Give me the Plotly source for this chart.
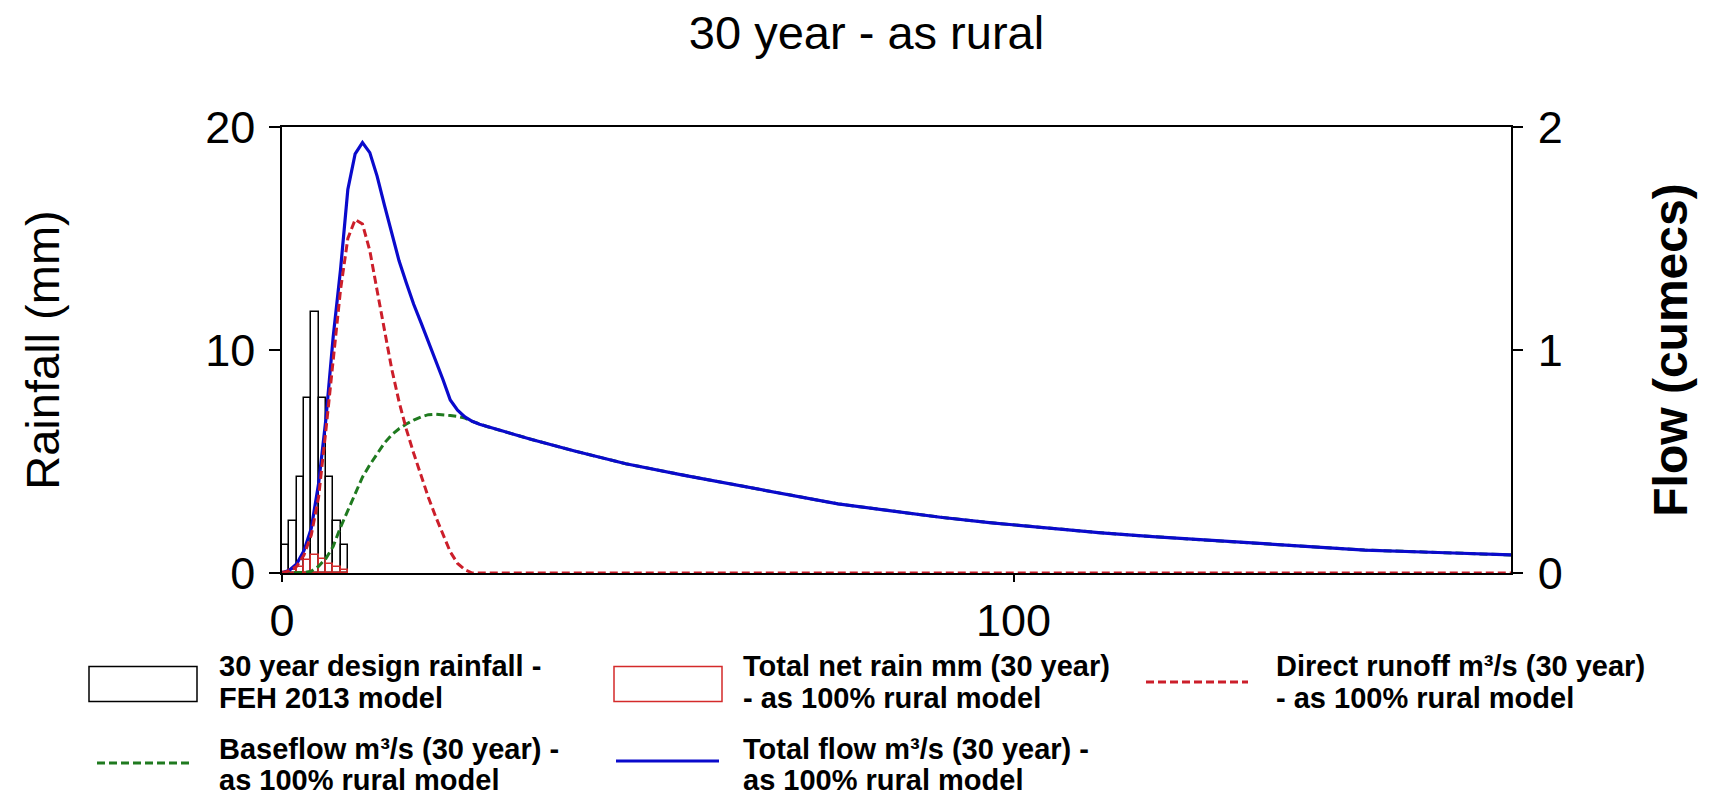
import plotly.graph_objects as go

# ---------------- data ----------------
rain_start_hr = [0, 1, 2, 3, 4, 5, 6, 7, 8]
rain_mm = [1.25, 2.35, 4.3, 7.85, 11.7, 7.85, 4.3, 2.35, 1.25]
net_rain_mm = [0.06, 0.14, 0.28, 0.58, 0.80, 0.61, 0.40, 0.27, 0.13]

total_time = [0, 1, 2, 3, 4, 5, 6, 7, 8, 9, 10, 11, 12, 13, 14, 15, 16, 17, 18, 19,
              20, 21, 22, 23, 24, 25, 26, 27, 28, 30, 34, 40, 47, 55, 62, 70, 76, 83,
              90, 97, 105, 112, 119, 126, 134, 141, 148, 158, 168]
total_flow = [0, 0.012, 0.04, 0.10, 0.20, 0.40, 0.69, 1.06, 1.36, 1.72, 1.88, 1.93, 1.885,
              1.78, 1.65, 1.52, 1.40, 1.30, 1.205, 1.123, 1.04, 0.955, 0.868, 0.776,
              0.73, 0.70, 0.68, 0.667, 0.657, 0.638, 0.60, 0.547, 0.49, 0.438, 0.395,
              0.345, 0.31, 0.28, 0.25, 0.225, 0.20, 0.18, 0.163, 0.148, 0.133, 0.118,
              0.103, 0.092, 0.081]

runoff_time = [0, 1, 2, 3, 4, 5, 6, 7, 8, 9, 10, 11, 12, 13, 14, 15, 16, 17, 18, 19,
               20, 21, 22, 23, 24, 25, 26, 168]
direct_runoff = [0, 0.01, 0.03, 0.08, 0.17, 0.34, 0.64, 0.97, 1.27, 1.50, 1.585, 1.565,
                 1.446, 1.267, 1.083, 0.915, 0.768, 0.644, 0.537, 0.437, 0.34, 0.253,
                 0.17, 0.095, 0.043, 0.015, 0, 0]

base_time = [0, 2, 3, 4, 5, 6, 7, 8, 9, 10, 11, 12, 13, 14, 15, 16, 17, 18, 19, 20, 21,
             22, 23, 24, 25, 26, 27, 28, 30, 34, 40, 47, 55, 62, 70, 76, 83, 90, 97,
             105, 112, 119, 126, 134, 141, 148, 158, 168]
baseflow = [0, 0, 0.002, 0.008, 0.03, 0.065, 0.12, 0.205, 0.28, 0.36, 0.43, 0.485,
            0.535, 0.583, 0.62, 0.647, 0.668, 0.686, 0.70, 0.71, 0.712, 0.71, 0.706,
            0.702, 0.695, 0.68, 0.667, 0.657, 0.638, 0.60, 0.547, 0.49, 0.438, 0.395,
            0.345, 0.31, 0.28, 0.25, 0.225, 0.20, 0.18, 0.163, 0.148, 0.133, 0.118,
            0.103, 0.092, 0.081]

x_ticks = [0, 100]
rain_ticks = [0, 10, 20]
flow_ticks = [0, 1, 2]

# ---------------- styling ----------------
W, H = 1733, 798
L, R, T, B = 282, 1511, 127, 573
FONT = "Liberation Sans, Arial, sans-serif"
BLUE = "#0A0ACC"
RED = "#CC1E2A"
GREEN = "#1F7A1F"
NETRED = "#D42A2A"

fig = go.Figure()

fig.add_trace(go.Bar(
    x=rain_start_hr, y=rain_mm, width=1, offset=0, name="30 year design rainfall - FEH 2013 model",
    marker=dict(color="white", line=dict(color="black", width=1.5)), yaxis="y"))
fig.add_trace(go.Bar(
    x=rain_start_hr, y=net_rain_mm, width=1, offset=0,
    name="Total net rain mm (30 year) - as 100% rural model",
    marker=dict(color="rgba(255,255,255,0)", line=dict(color=NETRED, width=1.5)), yaxis="y"))

fig.add_trace(go.Scatter(
    x=base_time, y=baseflow, mode="lines", yaxis="y2", cliponaxis=False,
    name="Baseflow m³/s (30 year) - as 100% rural model",
    line=dict(color=GREEN, width=3, dash="8px,4px")))
fig.add_trace(go.Scatter(
    x=total_time, y=total_flow, mode="lines", yaxis="y2", cliponaxis=False,
    name="Total flow m³/s (30 year) - as 100% rural model",
    line=dict(color=BLUE, width=3.2)))
fig.add_trace(go.Scatter(
    x=runoff_time, y=direct_runoff, mode="lines", yaxis="y2", cliponaxis=False,
    name="Direct runoff m³/s (30 year) - as 100% rural model",
    line=dict(color=RED, width=3, dash="8px,4px")))


def px(x):
    return (x - L) / (R - L)


def py(y):
    return (B - y) / (B - T)


# ---------------- custom legend ----------------
legend_items = [
    ("box", "black", None, 89, 197, 684, 217, ["30 year design rainfall -", "FEH 2013 model"], 0),
    ("box", NETRED, None, 614, 722, 684, 741, ["Total net rain mm (30 year)", "- as 100% rural model"], 0),
    ("line", RED, "8px,4px", 1146, 1248, 682, 1274, ["Direct runoff m³/s (30 year)", "- as 100% rural model"], 0),
    ("line", GREEN, "8px,4px", 97, 192, 763, 217, ["Baseflow m³/s (30 year) -", "as 100% rural model"], 1),
    ("line", BLUE, None, 616, 719, 761, 741, ["Total flow m³/s (30 year) -", "as 100% rural model"], 1),
]
row_line_mid = {0: (665.8, 697.5), 1: (749.0, 779.5)}

shapes = []
annotations = []
for kind, color, dash, x0, x1, ym, tx, lines, row in legend_items:
    if kind == "box":
        shapes.append(dict(type="rect", xref="paper", yref="paper",
                           x0=px(x0), x1=px(x1), y0=py(ym - 17.5), y1=py(ym + 17.5),
                           line=dict(color=color, width=1.5), fillcolor="white"))
    else:
        shapes.append(dict(type="line", xref="paper", yref="paper",
                           x0=px(x0), x1=px(x1), y0=py(ym), y1=py(ym),
                           line=dict(color=color, width=3, dash=dash or "solid")))
    for ln, yl in zip(lines, row_line_mid[row]):
        annotations.append(dict(text=ln, xref="paper", yref="paper", x=px(tx), y=py(yl),
                                xanchor="left", yanchor="middle", showarrow=False,
                                font=dict(family=FONT, size=29, color="black", weight="bold")))

axis_common = dict(showline=True, linecolor="black", linewidth=1.5, ticks="outside",
                   tickcolor="black", tickwidth=1.5, showgrid=False, zeroline=False,
                   tickfont=dict(family=FONT, size=45, color="black"))

fig.update_layout(
    width=W, height=H,
    margin=dict(l=L, r=W - R, t=T, b=H - B, autoexpand=False),
    paper_bgcolor="white", plot_bgcolor="white",
    barmode="overlay", bargap=0, showlegend=False,
    title=dict(text="30 year - as rural", x=0.5, xanchor="center", xref="container",
               y=1 - 32.5 / H, yanchor="middle",
               font=dict(family=FONT, size=47, color="black")),
    xaxis=dict(range=[0, 168], tickvals=x_ticks, ticklen=7, mirror=True, **axis_common),
    yaxis=dict(range=[0, 20], tickvals=rain_ticks, ticklen=11, ticklabelstandoff=5,
               title=dict(text="Rainfall (mm)", standoff=131,
                          font=dict(family=FONT, size=47, color="black")),
               **axis_common),
    yaxis2=dict(range=[0, 2], tickvals=flow_ticks, ticklen=10, overlaying="y", side="right",
                ticklabelstandoff=6,
                title=dict(text="Flow (cumecs)", standoff=92,
                           font=dict(family=FONT, size=48, color="black", weight="bold")),
                **axis_common),
    shapes=shapes, annotations=annotations,
)

fig.write_html("out.html", config={"displayModeBar": False},
               post_script="document.body.style.margin='0px';")
